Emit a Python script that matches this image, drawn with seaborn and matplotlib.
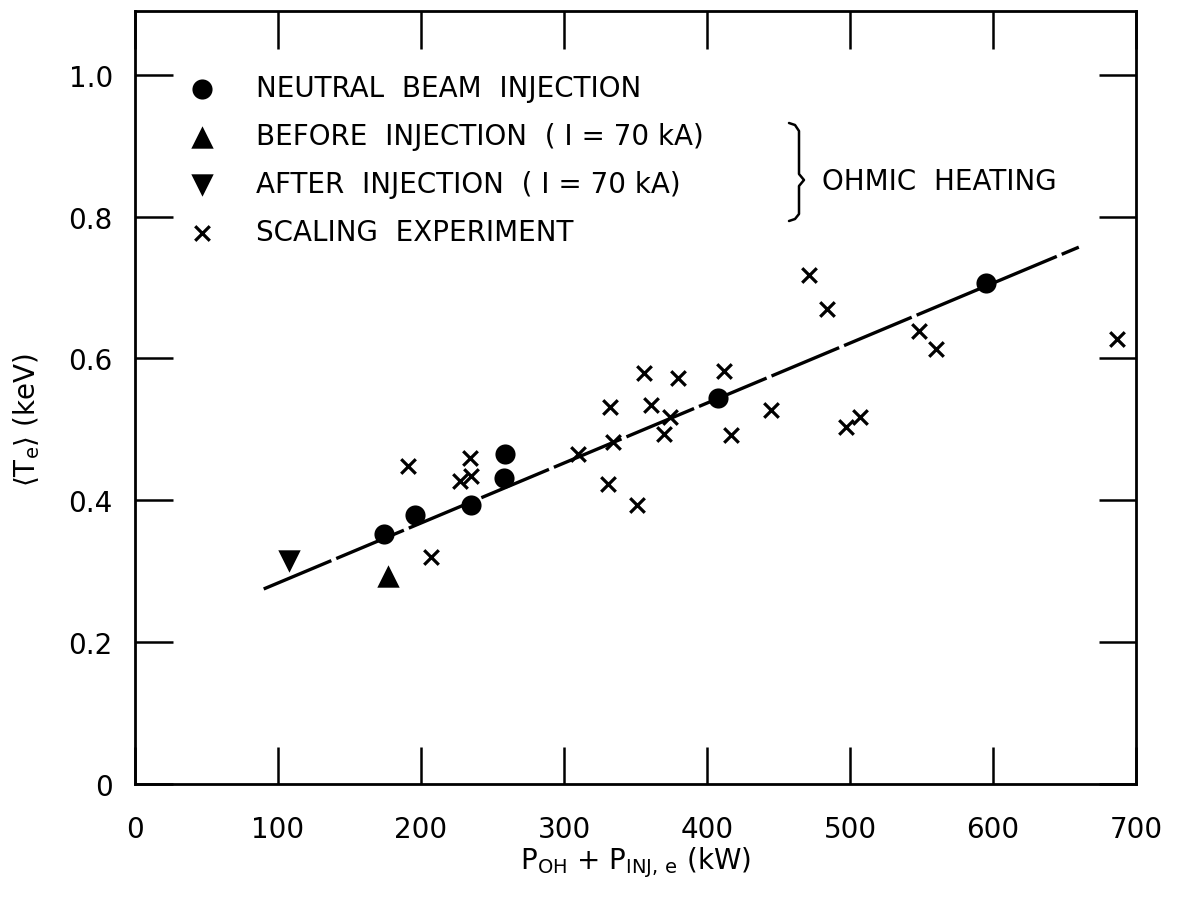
import numpy as np
import pandas as pd
import matplotlib
matplotlib.use("Agg")
import matplotlib.pyplot as plt
import matplotlib.transforms as mtransforms
import seaborn as sns

# 读取图中数据 (kW, keV)
nbi_x = [174, 196, 235, 258, 259, 408, 595]
nbi_y = [0.352, 0.380, 0.393, 0.432, 0.465, 0.544, 0.706]

before_x = [177]
before_y = [0.293]

after_x = [108]
after_y = [0.314]

scal_x = [191, 207, 227, 234, 235, 310, 331, 332, 334, 351, 356, 361, 370, 374,
          380, 412, 417, 445, 471, 484, 497, 507, 548, 560, 687]
scal_y = [0.448, 0.320, 0.427, 0.459, 0.434, 0.466, 0.423, 0.532, 0.482, 0.393,
          0.580, 0.535, 0.493, 0.518, 0.573, 0.582, 0.492, 0.528, 0.718, 0.670,
          0.503, 0.517, 0.639, 0.614, 0.628]

fit_x = [90, 660]
fit_y = [0.275, 0.757]

x_ticks = [0, 100, 200, 300, 400, 500, 600, 700]
y_ticks = [0, 0.2, 0.4, 0.6, 0.8, 1.0]
y_ticklabels = ["0", "0.2", "0.4", "0.6", "0.8", "1.0"]

labels = ["NEUTRAL  BEAM  INJECTION",
          "BEFORE  INJECTION  ( I = 70 kA)",
          "AFTER  INJECTION  ( I = 70 kA)",
          "SCALING  EXPERIMENT"]

sns.set_style("ticks")
plt.rcParams['font.family'] = ['DejaVu Sans']
plt.rcParams['mathtext.fontset'] = 'dejavusans'
plt.rcParams['text.color'] = 'black'
plt.rcParams['axes.labelcolor'] = 'black'

W, H = 1177, 904
fig = plt.figure(figsize=(W / 100, H / 100), dpi=100)
ax = fig.add_axes([135 / W, 1 - 785 / H, (1136 - 135) / W, (785 - 12) / H])

df_fit = pd.DataFrame({"x": fit_x, "y": fit_y})
sns.lineplot(data=df_fit, x="x", y="y", ax=ax, color="black", linewidth=2.4,
             dashes=False, legend=False)
ax.lines[-1].set_dashes((22, 1.6))

sns.scatterplot(x=nbi_x, y=nbi_y, ax=ax, marker="o", s=210, color="black",
                edgecolor="black", linewidth=0, label=labels[0], zorder=3)
sns.scatterplot(x=before_x, y=before_y, ax=ax, marker="^", s=260, color="black",
                edgecolor="black", linewidth=0, label=labels[1], zorder=3)
sns.scatterplot(x=after_x, y=after_y, ax=ax, marker="v", s=260, color="black",
                edgecolor="black", linewidth=0, label=labels[2], zorder=3)
sns.scatterplot(x=scal_x, y=scal_y, ax=ax, marker="x", s=110, color="black",
                linewidth=2.3, label=labels[3], zorder=3)

ax.set_xlim(0, 700)
ax.set_ylim(0, 1.09)
ax.set_xticks(x_ticks)
ax.set_yticks(y_ticks)
ax.set_yticklabels(y_ticklabels)

for s in ax.spines.values():
    s.set_linewidth(2.0)
    s.set_color("black")
ax.tick_params(direction="in", length=27, width=1.8, top=True, right=True,
               labelsize=20, pad=16, colors="black")
ax.tick_params(axis="x", pad=22)

ax.set_xlabel(r"P$_{\mathregular{OH}}$ + P$_{\mathregular{INJ,\,e}}$ (kW)", fontsize=20)
ax.set_ylabel(r"$\langle\mathregular{T_e}\rangle$ (keV)", fontsize=20)
ax.xaxis.set_label_coords(0.5, -0.078)
ax.yaxis.set_label_coords(-0.093, 0.472)

leg = ax.legend(loc="upper left", bbox_to_anchor=(0.053, 0.918), frameon=False,
                fontsize=20, handlelength=1.0, handletextpad=1.45,
                labelspacing=0.72, borderpad=0, borderaxespad=0)

# 括号 和 OHMIC HEATING
px = mtransforms.Affine2D().scale(1 / W, -1 / H).translate(0, 1) + fig.transFigure
bx = [789, 795, 799, 799, 804, 799, 799, 795, 789]
by = [124, 126, 132, 175, 181, 187, 215, 220, 222]
fig.add_artist(matplotlib.lines.Line2D(bx, by, transform=px, color="black", lw=1.8))
fig.text(822 / W, 1 - 182 / H, "OHMIC  HEATING", fontsize=20, va="center", ha="left")

plt.savefig("out.png", dpi=100)
